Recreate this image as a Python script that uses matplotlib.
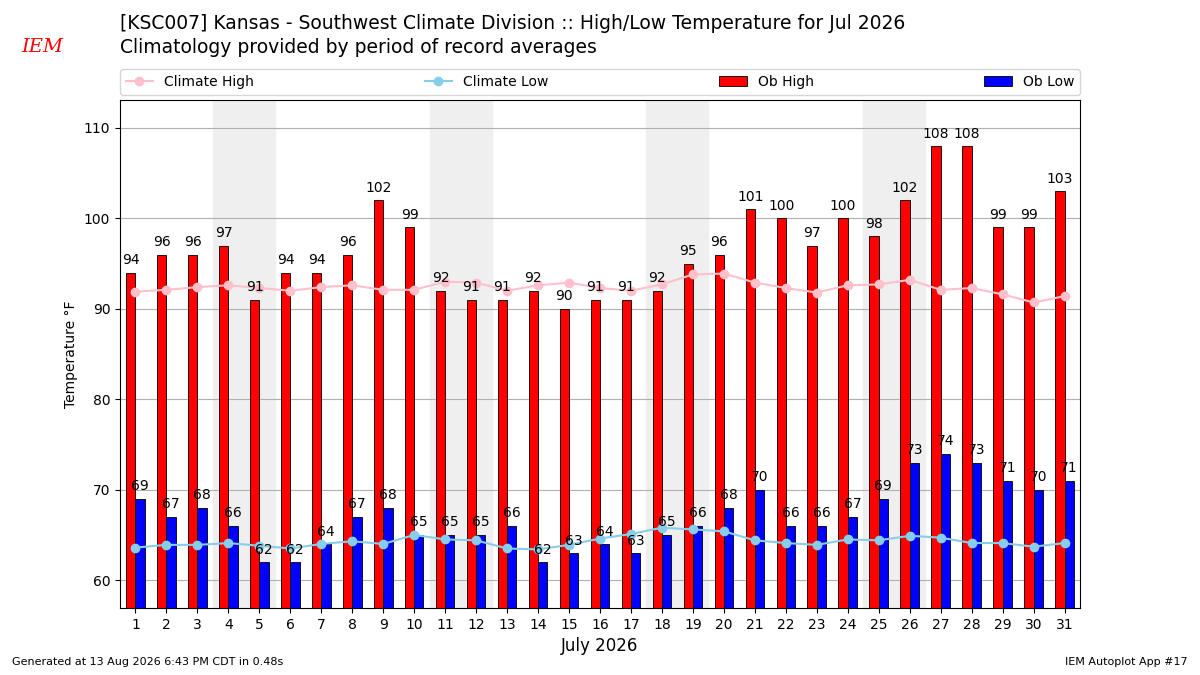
import numpy as np
import matplotlib.pyplot as plt

days = np.arange(1, 32)
ob_high = [94, 96, 96, 97, 91, 94, 94, 96, 102, 99, 92, 91, 91, 92, 90, 91, 91, 92, 95, 96,
           101, 100, 97, 100, 98, 102, 108, 108, 99, 99, 103]
ob_low = [69, 67, 68, 66, 62, 62, 64, 67, 68, 65, 65, 65, 66, 62, 63, 64, 63, 65, 66, 68,
          70, 66, 66, 67, 69, 73, 74, 73, 71, 70, 71]
clim_high = [91.9, 92.1, 92.4, 92.6, 92.3, 92.0, 92.4, 92.6, 92.1, 92.1, 93.0, 92.9, 92.0, 92.6,
             92.9, 92.3, 92.0, 92.7, 93.8, 93.9, 92.9, 92.3, 91.8, 92.6, 92.7, 93.2, 92.1, 92.3,
             91.6, 90.7, 91.4]
clim_low = [63.6, 63.9, 63.9, 64.1, 63.8, 63.5, 64.0, 64.3, 64.0, 65.0, 64.5, 64.4, 63.5, 63.4,
            63.9, 64.6, 65.1, 65.8, 65.6, 65.4, 64.4, 64.1, 63.9, 64.5, 64.4, 64.9, 64.7, 64.1,
            64.1, 63.7, 64.1]
weekends = [4, 11, 18, 25]

fig = plt.figure(figsize=(12, 6.75), dpi=100)
ax = fig.add_axes([0.1, 0.099, 0.8, 0.753])

for d in weekends:
    ax.axvspan(d - 0.5, d + 1.5, color='#efefef', zorder=0)

w = 0.3
hb = ax.bar(days - w / 2, ob_high, w, color='red', edgecolor='black', linewidth=0.6, label='Ob High', zorder=2)
lb = ax.bar(days + w / 2, ob_low, w, color='blue', edgecolor='black', linewidth=0.6, label='Ob Low', zorder=2)
ch, = ax.plot(days, clim_high, '-o', color='pink', markersize=6, label='Climate High', zorder=3)
cl, = ax.plot(days, clim_low, '-o', color='skyblue', markersize=6, label='Climate Low', zorder=3)
for d, v in zip(days, ob_high):
    ax.text(d - w / 2, v + 0.6, str(v), ha='center', va='bottom', fontsize=10, zorder=5)
for d, v in zip(days, ob_low):
    ax.text(d + w / 2, v + 0.6, str(v), ha='center', va='bottom', fontsize=10, zorder=5)

ax.set_xlim(0.5, 31.5)
ax.set_ylim(56.9, 113.1)
ax.set_xticks(days)
ax.tick_params(labelsize=10)
ax.yaxis.grid(True, color='#b0b0b0', zorder=1)
ax.set_axisbelow(True)
ax.set_xlabel('July 2026', fontsize=12)
ax.set_ylabel('Temperature °F', fontsize=10)

fig.legend(handles=[ch, cl, hb, lb], loc='lower left', ncol=4, mode='expand',
           bbox_to_anchor=(0.1, 0.86, 0.8, 0.04), fontsize=10, borderaxespad=0)

fig.text(0.1, 0.965, '[KSC007] Kansas - Southwest Climate Division :: High/Low Temperature for Jul 2026',
         fontsize=13.5, va='center')
fig.text(0.1, 0.93, 'Climatology provided by period of record averages', fontsize=13.5, va='center')
fig.text(0.018, 0.93, 'IEM', color='red', fontsize=14, style='italic', family='serif', va='center')
fig.text(0.01, 0.015, 'Generated at 13 Aug 2026 6:43 PM CDT in 0.48s', fontsize=8)
fig.text(0.99, 0.015, 'IEM Autoplot App #17', fontsize=8, ha='right')

fig.savefig('out.png', dpi=100)
